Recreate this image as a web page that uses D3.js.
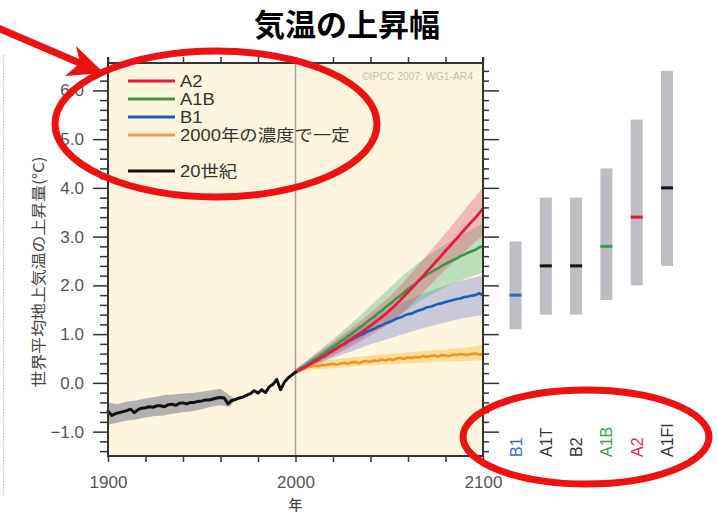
<!DOCTYPE html>
<html>
<head>
<meta charset="utf-8">
<script src="https://cdn.jsdelivr.net/npm/d3@7"></script>
<style>
html, body { margin: 0; padding: 0; background: #fff; }
svg { display: block; font-family: "Liberation Sans", "Noto Sans CJK JP", sans-serif; }
</style>
</head>
<body>
<svg id="chart" width="718" height="525"></svg>
<script>
// ---------- data ----------
const titleText = "気温の上昇幅";
const yAxisTitle = "世界平均地上気温の上昇量(°C)";
const xAxisTitle = "年";
const creditText = "©IPCC 2007: WG1-AR4";

// observed 20th-century anomaly (°C), every 2 years 1900–2000
const histYears = d3.range(1900, 2001, 2);
const histValues = [
  -0.58, -0.67, -0.63, -0.61, -0.59, -0.57, -0.54, -0.61, -0.55, -0.52,
  -0.51, -0.49, -0.50, -0.47, -0.47, -0.49, -0.45, -0.44, -0.46, -0.42,
  -0.41, -0.43, -0.40, -0.40, -0.38, -0.37, -0.35, -0.35, -0.33, -0.31,
  -0.30, -0.31, -0.43, -0.36, -0.34, -0.31, -0.29, -0.25, -0.22, -0.16,
  -0.21, -0.14, -0.20, -0.08, -0.03, 0.07, -0.14, 0.01, 0.10, 0.16, 0.22
];
// uncertainty band of the observed series
const histBandYears = [1900, 1905, 1910, 1915, 1920, 1925, 1930, 1935, 1940, 1945, 1950, 1955, 1960, 1965, 1968];
const histBandHi = [-0.40, -0.44, -0.38, -0.36, -0.32, -0.29, -0.25, -0.24, -0.22, -0.21, -0.18, -0.15, -0.12, -0.26, -0.34];
const histBandLo = [-0.86, -0.82, -0.77, -0.75, -0.71, -0.68, -0.67, -0.63, -0.60, -0.58, -0.54, -0.49, -0.46, -0.49, -0.34];

// multi-model means, every 2 years 2000–2100
const projYears = d3.range(2000, 2101, 2);
const a2Values = [
  0.22, 0.26, 0.30, 0.34, 0.39, 0.44, 0.47, 0.53, 0.56, 0.62,
  0.66, 0.71, 0.76, 0.80, 0.86, 0.91, 0.96, 1.01, 1.06, 1.12,
  1.17, 1.23, 1.29, 1.35, 1.41, 1.48, 1.55, 1.62, 1.70, 1.78,
  1.86, 1.94, 2.02, 2.11, 2.19, 2.28, 2.36, 2.45, 2.53, 2.62,
  2.71, 2.79, 2.88, 2.96, 3.05, 3.14, 3.22, 3.31, 3.39, 3.48, 3.58
];
const a1bValues = [
  0.22, 0.28, 0.32, 0.37, 0.42, 0.48, 0.52, 0.58, 0.63, 0.69,
  0.74, 0.79, 0.85, 0.89, 0.96, 1.01, 1.07, 1.13, 1.18, 1.25,
  1.31, 1.36, 1.43, 1.48, 1.55, 1.61, 1.67, 1.74, 1.79, 1.86,
  1.93, 1.98, 2.04, 2.10, 2.16, 2.22, 2.26, 2.31, 2.35, 2.40,
  2.44, 2.48, 2.52, 2.55, 2.60, 2.63, 2.67, 2.70, 2.73, 2.78, 2.80
];
const b1Values = [
  0.22, 0.27, 0.31, 0.36, 0.40, 0.45, 0.49, 0.54, 0.58, 0.63,
  0.67, 0.71, 0.76, 0.79, 0.85, 0.89, 0.93, 0.97, 1.00, 1.05,
  1.08, 1.11, 1.15, 1.18, 1.22, 1.25, 1.28, 1.32, 1.34, 1.38,
  1.41, 1.42, 1.46, 1.49, 1.51, 1.55, 1.56, 1.59, 1.62, 1.63,
  1.66, 1.68, 1.70, 1.72, 1.73, 1.76, 1.77, 1.79, 1.80, 1.84, 1.79
];
const constValues = [
  0.22, 0.27, 0.30, 0.32, 0.33, 0.35, 0.34, 0.37, 0.36, 0.38,
  0.39, 0.37, 0.40, 0.41, 0.39, 0.42, 0.43, 0.40, 0.44, 0.45,
  0.43, 0.46, 0.45, 0.48, 0.46, 0.49, 0.47, 0.50, 0.51, 0.49,
  0.52, 0.51, 0.53, 0.52, 0.55, 0.53, 0.55, 0.56, 0.54, 0.57,
  0.56, 0.55, 0.58, 0.57, 0.59, 0.58, 0.57, 0.59, 0.60, 0.58, 0.59
];

// ±1 standard deviation ranges, every 5 years 2000–2100
const bandYears = d3.range(2000, 2101, 5);
const a2Lo  = [0.18, 0.28, 0.38, 0.46, 0.55, 0.65, 0.75, 0.86, 0.97, 1.09, 1.20, 1.36, 1.53, 1.73, 1.93, 2.13, 2.33, 2.50, 2.68, 2.86, 3.04];
const a2Hi  = [0.28, 0.42, 0.56, 0.70, 0.84, 0.99, 1.13, 1.28, 1.44, 1.60, 1.76, 1.96, 2.17, 2.40, 2.62, 2.84, 3.07, 3.30, 3.54, 3.77, 4.02];
const a1bLo = [0.18, 0.29, 0.39, 0.48, 0.57, 0.68, 0.79, 0.91, 1.03, 1.15, 1.27, 1.39, 1.51, 1.64, 1.76, 1.86, 1.96, 2.05, 2.13, 2.20, 2.26];
const a1bHi = [0.28, 0.43, 0.58, 0.74, 0.90, 1.06, 1.23, 1.40, 1.58, 1.76, 1.94, 2.12, 2.29, 2.45, 2.59, 2.72, 2.84, 2.96, 3.07, 3.17, 3.26];
const b1Lo  = [0.18, 0.27, 0.36, 0.44, 0.51, 0.58, 0.65, 0.72, 0.79, 0.85, 0.91, 0.97, 1.03, 1.09, 1.14, 1.19, 1.24, 1.29, 1.33, 1.36, 1.39];
const b1Hi  = [0.28, 0.42, 0.55, 0.68, 0.81, 0.94, 1.07, 1.19, 1.31, 1.41, 1.51, 1.61, 1.70, 1.78, 1.86, 1.93, 2.00, 2.06, 2.11, 2.16, 2.21];
const constLo = [0.18, 0.25, 0.28, 0.29, 0.30, 0.32, 0.33, 0.35, 0.36, 0.37, 0.38, 0.39, 0.40, 0.41, 0.42, 0.43, 0.44, 0.44, 0.45, 0.46, 0.46];
const constHi = [0.26, 0.37, 0.42, 0.46, 0.48, 0.50, 0.52, 0.54, 0.56, 0.58, 0.60, 0.61, 0.63, 0.64, 0.66, 0.67, 0.68, 0.70, 0.72, 0.75, 0.78];

// 2090–2099 best estimates and likely ranges per scenario
const scenarioNames = ["B1", "A1T", "B2", "A1B", "A2", "A1FI"];
const scenarioBest  = [1.8, 2.4, 2.4, 2.8, 3.4, 4.0];
const scenarioLow   = [1.1, 1.4, 1.4, 1.7, 2.0, 2.4];
const scenarioHigh  = [2.9, 3.8, 3.8, 4.4, 5.4, 6.4];

// axes
const yMajorTicks = [-1, 0, 1, 2, 3, 4, 5, 6];
const xTicks = [1900, 1920, 1940, 1960, 1980, 2000, 2020, 2040, 2060, 2080, 2100];
const xTickLabels = [1900, 2000, 2100];

// legend
const legendLabels = ["A2", "A1B", "B1", "2000年の濃度で一定", "20世紀"];

// ---------- styles ----------
const colors = {
  A2: "#e8193a", A1B: "#3c9649", B1: "#1d5fb2", CONST: "#f0922b", HIST: "#111111",
  bandA2: "rgba(220,70,105,0.34)", bandA1B: "rgba(80,180,125,0.36)",
  bandB1: "rgba(105,115,215,0.34)", bandCONST: "rgba(250,195,70,0.48)",
  bandHIST: "rgba(150,150,160,0.72)"
};
const legendColors = [colors.A2, colors.A1B, colors.B1, "#f39a4f", colors.HIST];
const scenarioColors = {B1: "#3a6fbf", A1T: "#333", B2: "#333", A1B: "#3f9d52", A2: "#e2294a", A1FI: "#333"};
const markColors = {B1: "#2f6db8", A1T: "#111", B2: "#111", A1B: "#3e9a4f", A2: "#e81a35", A1FI: "#111"};
const annot = "#ee1111";

// ---------- scales ----------
const x = d3.scaleLinear().domain([1900, 2100]).range([108, 483]);
const y = d3.scaleLinear().domain([-1.5, 6.5]).range([456, 66]);
const plotTop = 63, plotBottom = y(-1.5), plotLeft = x(1900), plotRight = x(2100);
const xs = d3.scalePoint().domain(scenarioNames).range([515.5, 667]);

const svg = d3.select("#chart");

// remnant border of the neighbouring panel on the left edge
svg.append("line").attr("x1", 3.5).attr("x2", 3.5).attr("y1", 55).attr("y2", 495)
  .attr("stroke", "#bdbdbd").attr("stroke-width", 1.2).attr("stroke-dasharray", "1.5,1.5");

// title
svg.append("text").attr("x", 347).attr("y", 36).attr("text-anchor", "middle")
  .attr("font-family", "'Noto Sans CJK JP'").attr("font-weight", 700).attr("font-size", 31)
  .attr("fill", "#000").text(titleText);

// plot background
svg.append("rect").attr("x", plotLeft).attr("y", plotTop)
  .attr("width", plotRight - plotLeft).attr("height", plotBottom - plotTop)
  .attr("fill", "#fdf5dd");

// ---------- bands ----------
const area = d3.area().x(d => x(d.t)).y0(d => y(d.lo)).y1(d => y(d.hi));
function band(years, lo, hi) { return years.map((t, i) => ({t, lo: lo[i], hi: hi[i]})); }
const blur = svg.append("defs").append("filter").attr("id", "soft");
blur.append("feGaussianBlur").attr("stdDeviation", 0.7);

const gBands = svg.append("g").attr("filter", "url(#soft)");
gBands.append("path").attr("d", area(band(histBandYears, histBandLo, histBandHi))).attr("fill", colors.bandHIST);
gBands.append("path").attr("d", area(band(bandYears, constLo, constHi))).attr("fill", colors.bandCONST);
gBands.append("path").attr("d", area(band(bandYears, b1Lo, b1Hi))).attr("fill", colors.bandB1);
gBands.append("path").attr("d", area(band(bandYears, a1bLo, a1bHi))).attr("fill", colors.bandA1B);
gBands.append("path").attr("d", area(band(bandYears, a2Lo, a2Hi))).attr("fill", colors.bandA2);

// year 2000 divider
svg.append("line").attr("x1", x(2000)).attr("x2", x(2000)).attr("y1", plotTop).attr("y2", plotBottom)
  .attr("stroke", "#aaa493").attr("stroke-width", 1.5);

// ---------- lines ----------
const line = d3.line().x(d => x(d.t)).y(d => y(d.v));
function series(years, vals) { return years.map((t, i) => ({t, v: vals[i]})); }
const gLines = svg.append("g").attr("fill", "none").attr("stroke-linejoin", "round").attr("stroke-linecap", "round");
gLines.append("path").attr("d", line(series(projYears, constValues))).attr("stroke", colors.CONST).attr("stroke-width", 2.6);
gLines.append("path").attr("d", line(series(projYears, b1Values))).attr("stroke", colors.B1).attr("stroke-width", 2.6);
gLines.append("path").attr("d", line(series(projYears, a1bValues))).attr("stroke", colors.A1B).attr("stroke-width", 2.6);
gLines.append("path").attr("d", line(series(projYears, a2Values))).attr("stroke", colors.A2).attr("stroke-width", 2.8);
gLines.append("path").attr("d", line(series(histYears, histValues))).attr("stroke", colors.HIST).attr("stroke-width", 3);

// ---------- frame and axes ----------
const axisColor = "#333";
const labelColor = "#555";
const fmt = d => (d < 0 ? "\u2212" : "") + Math.abs(d).toFixed(1);
const yMinorTicks = y.ticks(40).filter(v => Math.abs(v - Math.round(v)) > 1e-6);

function styleAxis(g) {
  g.select(".domain").remove();
  g.selectAll(".tick line").attr("stroke", axisColor).attr("stroke-width", 1.5);
  g.selectAll(".tick text").attr("fill", labelColor).attr("font-size", 17)
    .attr("font-family", "'Liberation Sans', sans-serif");
}

svg.append("g").attr("transform", `translate(${plotLeft},0)`)
  .call(d3.axisLeft(y).tickValues(yMajorTicks).tickSize(15).tickPadding(9).tickFormat(fmt)).call(styleAxis);
svg.append("g").attr("transform", `translate(${plotLeft},0)`)
  .call(d3.axisLeft(y).tickValues(yMinorTicks).tickSize(8).tickFormat("")).call(styleAxis);
svg.append("g").attr("transform", `translate(${plotRight},0)`)
  .call(d3.axisRight(y).tickValues(yMajorTicks).tickSize(16).tickFormat("")).call(styleAxis);
svg.append("g").attr("transform", `translate(${plotRight},0)`)
  .call(d3.axisRight(y).tickValues(yMinorTicks).tickSize(6).tickFormat("")).call(styleAxis);
svg.append("g").attr("transform", `translate(0,${plotBottom})`)
  .call(d3.axisBottom(x).tickValues(xTicks).tickSize(6).tickPadding(14)
    .tickFormat(d => xTickLabels.includes(d) ? String(d) : "")).call(styleAxis);
svg.append("g").attr("transform", `translate(0,${plotTop})`)
  .call(d3.axisTop(x).tickValues(xTicks).tickSize(6).tickFormat("")).call(styleAxis);

// frame
const frame = svg.append("g").attr("stroke", axisColor).attr("stroke-width", 2);
frame.append("line").attr("x1", plotLeft).attr("x2", plotLeft).attr("y1", plotTop - 6).attr("y2", plotBottom + 1);
frame.append("line").attr("x1", plotRight).attr("x2", plotRight).attr("y1", plotTop - 6).attr("y2", plotBottom + 1);
frame.append("line").attr("x1", plotLeft).attr("x2", plotRight).attr("y1", plotTop).attr("y2", plotTop);
frame.append("line").attr("x1", plotLeft).attr("x2", plotRight).attr("y1", plotBottom).attr("y2", plotBottom);

// axis titles
svg.append("text").attr("x", x(2000)).attr("y", 510).attr("text-anchor", "middle")
  .attr("font-family", "'Noto Sans CJK JP'").attr("font-weight", 500).attr("font-size", 14)
  .attr("fill", "#444").text(xAxisTitle);
svg.append("text").attr("transform", `translate(44,272) rotate(-90)`).attr("text-anchor", "middle")
  .attr("font-family", "'Noto Sans CJK JP'").attr("font-size", 15).attr("fill", "#444")
  .attr("textLength", 231).attr("lengthAdjust", "spacingAndGlyphs").text(yAxisTitle);

// credit
svg.append("text").attr("x", 362).attr("y", 80).attr("font-size", 10).attr("fill", "#c4bca8")
  .attr("textLength", 111).attr("lengthAdjust", "spacingAndGlyphs").text(creditText);

// ---------- scenario ranges ----------
const gBars = svg.append("g");
scenarioNames.forEach((name, i) => {
  const cx = xs(name);
  gBars.append("rect").attr("x", cx - 6).attr("width", 12)
    .attr("y", y(scenarioHigh[i])).attr("height", y(scenarioLow[i]) - y(scenarioHigh[i]))
    .attr("fill", "#bdbdc3");
  gBars.append("rect").attr("x", cx - 6).attr("width", 12)
    .attr("y", y(scenarioBest[i]) - 1.5).attr("height", 3).attr("fill", markColors[name]);
  gBars.append("text").attr("transform", `translate(${cx + 6},457) rotate(-90)`)
    .attr("font-size", 16).attr("fill", scenarioColors[name]).text(name);
});

// ---------- legend ----------
const legendRows = [81, 99, 117, 135, 171];
const gLeg = svg.append("g");
legendLabels.forEach((label, i) => {
  const ly = legendRows[i];
  gLeg.append("line").attr("x1", 128).attr("x2", 175).attr("y1", ly).attr("y2", ly)
    .attr("stroke", legendColors[i]).attr("stroke-width", 3);
  gLeg.append("text").attr("transform", `translate(180,${ly + 6}) scale(1.15,1)`)
    .attr("font-size", 16).attr("fill", "#333").text(label);
});

// ---------- annotations ----------
const gAnn = svg.append("g").attr("fill", "none").attr("stroke", annot).attr("stroke-width", 7);
gAnn.append("ellipse").attr("cx", 216).attr("cy", 124).attr("rx", 161).attr("ry", 73);
gAnn.append("ellipse").attr("cx", 586).attr("cy", 437).attr("rx", 123).attr("ry", 47);
gAnn.append("line").attr("x1", -2).attr("y1", 28).attr("x2", 82).attr("y2", 64).attr("stroke-width", 7);
svg.append("path").attr("d", "M104,73 L76,46 L80,63 L65,76 Z").attr("fill", annot);
</script>
</body>
</html>
